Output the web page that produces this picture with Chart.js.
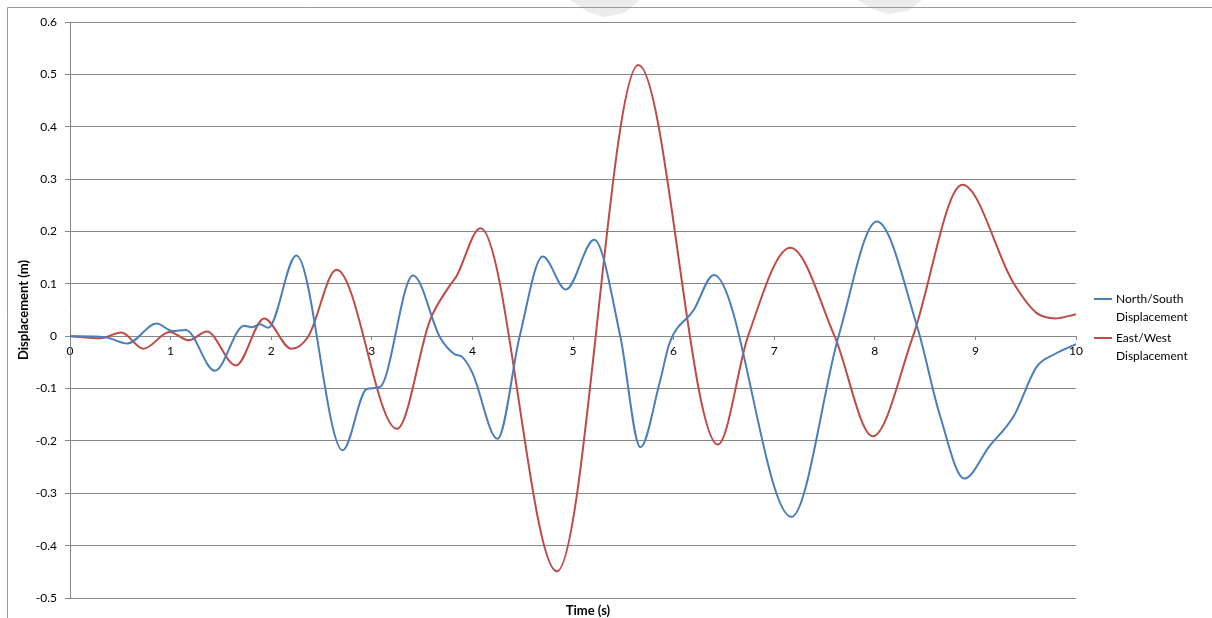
<!DOCTYPE html>
<html>
<head>
<meta charset="utf-8">
<script src="https://cdn.jsdelivr.net/npm/chart.js@4.4.1/dist/chart.umd.min.js"></script>
<style>
    html, body { margin: 0; padding: 0; background: #fff; }
    #wrap { width: 1212px; height: 618px; }
</style>
</head>
<body>
<div id="wrap"><canvas id="dispChart" width="1212" height="618"></canvas></div>
<script>
// North/South displacement (m) vs time (s)
const timeNS = [0, 0.35, 0.57, 0.86, 1.02, 1.15, 1.44, 1.73, 1.81, 1.89, 1.97, 2.25, 2.71, 2.95, 3.08, 3.41,
    3.68, 3.82, 3.90, 4.0, 4.25, 4.47, 4.70, 4.93, 5.21, 5.47, 5.67, 5.86, 5.96, 6.2, 6.40,
    7.17, 7.64, 8.02, 8.42, 8.65, 8.89, 9.14, 9.38, 9.61, 9.78, 10];
const dispNS = [0, -0.002, -0.014, 0.024, 0.010, 0.012, -0.066, 0.020, 0.017, 0.023, 0.016, 0.154, -0.218, -0.101, -0.097, 0.116,
    -0.003, -0.034, -0.040, -0.07, -0.196, 0, 0.152, 0.089, 0.184, 0, -0.212, -0.09, -0.013, 0.05, 0.117,
    -0.345, 0, 0.219, 0.019, -0.153, -0.272, -0.21, -0.153, -0.058, -0.035, -0.015];

// East/West displacement (m) vs time (s)
const timeEW = [0, 0.30, 0.51, 0.73, 0.99, 1.18, 1.36, 1.65, 1.93, 2.20, 2.37, 2.65, 3.25, 3.58, 3.78, 3.84,
    4.08, 4.84, 5.65, 6.44, 6.74, 7.16, 7.6, 7.98, 8.38, 8.87, 9.38, 9.61, 9.80, 10];
const dispEW = [0, -0.004, 0.007, -0.024, 0.008, -0.008, 0.009, -0.056, 0.034, -0.024, 0, 0.127, -0.177, 0.031, 0.098, 0.114,
    0.206, -0.449, 0.518, -0.207, 0, 0.169, 0, -0.191, 0, 0.289, 0.101, 0.044, 0.034, 0.042];

const seriesNames = ['North/South Displacement', 'East/West Displacement'];
const legendLines = [['North/South', 'Displacement'], ['East/West', 'Displacement']];
const seriesColors = ['#4A7EBB', '#BE4B48'];

const FONT = 'Lato, "Open Sans", sans-serif';

function toPoints(xs, ys) {
    return xs.map((x, i) => ({ x: x, y: ys[i] }));
}

// frame, faint page marks, x axis title and the two-line legend
const extras = {
    id: 'extras',
    beforeDraw(chart) {
        const ctx = chart.ctx;
        ctx.save();
        ctx.fillStyle = '#ececec';
        [[[570, 0], [640, 0], [624, 13], [604, 17], [588, 12]],
         [[858, 0], [922, 0], [908, 11], [888, 14], [872, 9]]].forEach(poly => {
            ctx.beginPath();
            poly.forEach((p, i) => i ? ctx.lineTo(p[0], p[1]) : ctx.moveTo(p[0], p[1]));
            ctx.closePath();
            ctx.fill();
        });
        ctx.strokeStyle = '#9a9a9a';
        ctx.lineWidth = 1;
        ctx.beginPath();
        ctx.moveTo(7.5, 618);
        ctx.lineTo(7.5, 7.5);
        ctx.lineTo(1212, 7.5);
        ctx.stroke();
        ctx.restore();
    },
    afterDraw(chart) {
        const ctx = chart.ctx;
        ctx.save();
        ctx.fillStyle = '#000';
        ctx.font = 'bold 13px ' + FONT;
        ctx.textAlign = 'center';
        ctx.textBaseline = 'middle';
        ctx.fillText('Time (s)', 588, 611);

        ctx.font = '12px ' + FONT;
        ctx.textAlign = 'left';
        const tops = [299, 338];
        legendLines.forEach((lines, i) => {
            const y = tops[i];
            ctx.strokeStyle = seriesColors[i];
            ctx.lineWidth = 2;
            ctx.beginPath();
            ctx.moveTo(1094, y);
            ctx.lineTo(1112, y);
            ctx.stroke();
            lines.forEach((t, j) => ctx.fillText(t, 1116, y + j * 18));
        });
        ctx.restore();
    }
};

const ctx = document.getElementById('dispChart').getContext('2d');
new Chart(ctx, {
    type: 'line',
    data: {
        datasets: [
            {
                label: seriesNames[0],
                data: toPoints(timeNS, dispNS),
                borderColor: seriesColors[0],
                borderWidth: 2,
                pointRadius: 0,
                cubicInterpolationMode: 'monotone',
                fill: false
            },
            {
                label: seriesNames[1],
                data: toPoints(timeEW, dispEW),
                borderColor: seriesColors[1],
                borderWidth: 2,
                pointRadius: 0,
                cubicInterpolationMode: 'monotone',
                fill: false
            }
        ]
    },
    options: {
        responsive: false,
        animation: false,
        layout: {
            padding: { top: 22, right: 136, bottom: 20, left: 14 }
        },
        plugins: {
            legend: { display: false },
            title: { display: false },
            tooltip: { enabled: false }
        },
        scales: {
            x: {
                type: 'linear',
                position: { y: 0 },
                min: 0,
                max: 10,
                grid: {
                    drawOnChartArea: false,
                    drawTicks: true,
                    tickLength: 4,
                    color: '#868686'
                },
                border: { display: false },
                ticks: {
                    stepSize: 1,
                    maxRotation: 0,
                    padding: 4,
                    color: '#000',
                    font: { family: FONT, size: 12 }
                }
            },
            y: {
                min: -0.5,
                max: 0.6,
                afterFit: function(scale) {
                    scale.width = 56;
                },
                grid: {
                    color: '#868686',
                    tickLength: 5
                },
                border: { display: true, color: '#868686' },
                ticks: {
                    stepSize: 0.1,
                    padding: 8,
                    color: '#000',
                    font: { family: FONT, size: 12 },
                    callback: function(value) {
                        return String(Math.round(value * 10) / 10);
                    }
                },
                title: {
                    display: true,
                    text: 'Displacement (m)',
                    color: '#000',
                    font: { family: FONT, size: 13, weight: 'bold' },
                    padding: { top: 2, bottom: 0 }
                }
            }
        }
    },
    plugins: [extras]
});
</script>
</body>
</html>
